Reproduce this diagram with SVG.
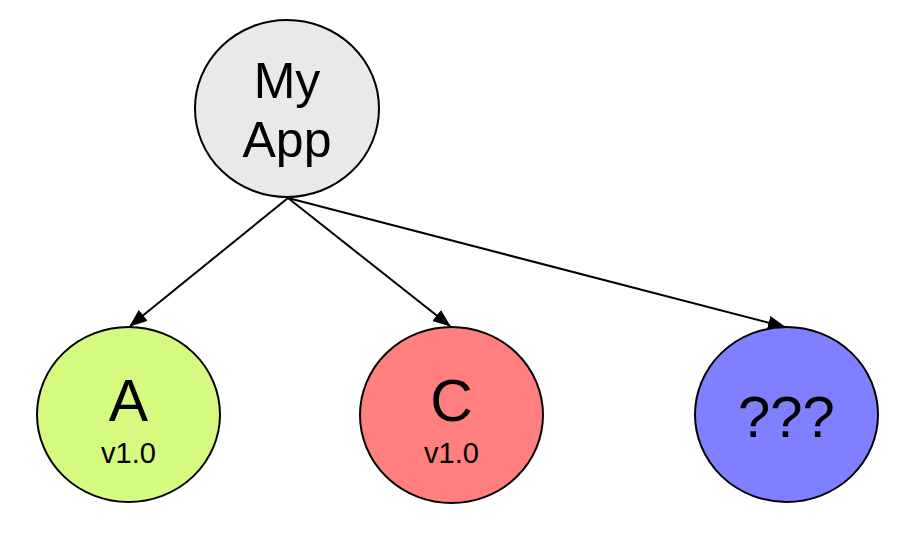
<svg xmlns="http://www.w3.org/2000/svg" width="922" height="544" viewBox="0 0 922 544">
<style>
.node{stroke:#000;stroke-width:2}
.t{font-family:"Liberation Sans",Arial,sans-serif;fill:#000;text-anchor:middle}
.edge{stroke:#000;stroke-width:2;fill:none}
</style>
<defs>
<marker id="ah" markerWidth="18" markerHeight="14" refX="17" refY="7" orient="auto" markerUnits="userSpaceOnUse">
<path d="M0,0 L18,7 L0,14 Z" fill="#000"/>
</marker>
</defs>
<rect width="922" height="544" fill="#fff"/>
<g id="connectors">
<line class="edge" x1="288" y1="198" x2="130" y2="326" marker-end="url(#ah)"/>
<line class="edge" x1="288" y1="198" x2="450" y2="326" marker-end="url(#ah)"/>
<line class="edge" x1="288" y1="198" x2="785" y2="327" marker-end="url(#ah)"/>
</g>
<g id="myapp">
<ellipse class="node" cx="287" cy="108.5" rx="92" ry="88.5" fill="#e9e9e9"/>
<text class="t" x="287" y="98" font-size="50">My</text>
<text class="t" x="287" y="157" font-size="50">App</text>
</g>
<g id="a">
<ellipse class="node" cx="128.5" cy="414.5" rx="91.5" ry="87.5" fill="#d5fa80"/>
<text class="t" x="128.5" y="421" font-size="59">A</text>
<text class="t" x="128.5" y="463" font-size="29">v1.0</text>
</g>
<g id="c">
<ellipse class="node" cx="451.5" cy="415" rx="91.5" ry="88" fill="#ff7f7f"/>
<text class="t" x="451.5" y="421" font-size="59">C</text>
<text class="t" x="451.5" y="463" font-size="29">v1.0</text>
</g>
<g id="unknown">
<ellipse class="node" cx="786.5" cy="414.5" rx="91.5" ry="87.5" fill="#7f80ff"/>
<text class="t" x="786.5" y="437" font-size="58">???</text>
</g>
</svg>
